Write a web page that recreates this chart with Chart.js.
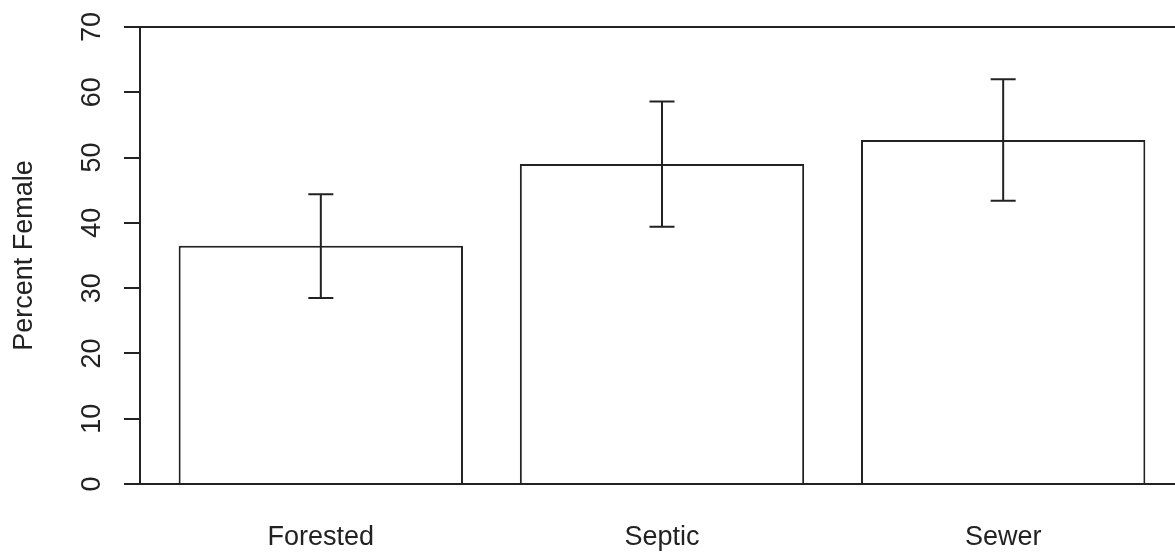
<!DOCTYPE html>
<html>
<head>
<meta charset="utf-8">
<script src="https://cdn.jsdelivr.net/npm/chart.js@4"></script>
<style>
  html, body { margin: 0; padding: 0; background: #fff; overflow: hidden; }
  #wrap { width: 1184px; height: 553px; }
</style>
</head>
<body>
<div id="wrap"><canvas id="chart"></canvas></div>
<script>
/* data */
const categories = ['Forested', 'Septic', 'Sewer'];
const percentFemale = [36.5, 49.0, 52.7];
const errHigh = [44.4, 58.6, 62.0];
const errLow = [28.5, 39.4, 43.4];
const yTickLabels = ['0', '10', '20', '30', '40', '50', '60', '70'];

/* R barplot layout: width 1, space 0.2, 4% axis padding */
const BAR_W = 1, SPACE = 0.2;
const centers = categories.map((_, i) => SPACE + BAR_W / 2 + i * (BAR_W + SPACE));
const span = categories.length * (BAR_W + SPACE);
const X_MIN = SPACE - 0.04 * (span - SPACE);
const X_MAX = span + 0.04 * (span - SPACE);

const INK = '#222';
const FONT = 'Liberation Sans, Arial, sans-serif';

// error bars + rotated y tick labels
const extras = {
  id: 'extras',
  afterDatasetsDraw(chart) {
    const { ctx, scales: { x, y } } = chart;
    ctx.save();
    ctx.strokeStyle = INK;
    ctx.lineWidth = 2;
    centers.forEach((c, i) => {
      const px = x.getPixelForValue(c);
      const top = y.getPixelForValue(errHigh[i]);
      const bot = y.getPixelForValue(errLow[i]);
      ctx.beginPath();
      ctx.moveTo(px, top); ctx.lineTo(px, bot);
      ctx.moveTo(px - 12.5, top); ctx.lineTo(px + 12.5, top);
      ctx.moveTo(px - 12.5, bot); ctx.lineTo(px + 12.5, bot);
      ctx.stroke();
    });
    ctx.restore();
  },
  afterDraw(chart) {
    const { ctx, scales: { y } } = chart;
    ctx.save();
    ctx.fillStyle = INK;
    ctx.font = `27px ${FONT}`;
    ctx.textAlign = 'center';
    ctx.textBaseline = 'alphabetic';
    yTickLabels.forEach(t => {
      const py = y.getPixelForValue(Number(t));
      ctx.save();
      ctx.translate(100, py);
      ctx.rotate(-Math.PI / 2);
      ctx.fillText(t, 0, 0);
      ctx.restore();
    });
    ctx.restore();
  }
};

new Chart(document.getElementById('chart'), {
  type: 'bar',
  data: {
    datasets: [{
      data: centers.map((c, i) => ({ x: c, y: percentFemale[i] })),
      backgroundColor: '#fff',
      borderColor: INK,
      borderWidth: 2,
      borderSkipped: 'start',
      barPercentage: 1,
      categoryPercentage: BAR_W / (BAR_W + SPACE)
    }]
  },
  options: {
    responsive: true,
    maintainAspectRatio: false,
    animation: false,
    layout: { padding: { top: 27, left: 0, right: 0, bottom: 0 } },
    plugins: { legend: { display: false }, tooltip: { enabled: false } },
    scales: {
      x: {
        type: 'linear',
        min: X_MIN,
        max: X_MAX,
        offset: false,
        afterBuildTicks: s => { s.ticks = centers.map(v => ({ value: v })); },
        afterFit: s => { s.height = 69; },
        grid: { display: false },
        border: { display: false },
        ticks: {
          callback: v => categories[centers.findIndex(c => Math.abs(c - v) < 1e-6)],
          color: INK,
          font: { family: FONT, size: 27 },
          padding: 29,
          maxRotation: 0
        }
      },
      y: {
        min: 0,
        max: 70,
        ticks: { stepSize: 10, display: false },
        afterFit: s => { s.width = 140; },
        grid: {
          color: c => (c.tick && (c.tick.value === 0 || c.tick.value === 70)) ? INK : 'rgba(0,0,0,0)',
          tickColor: INK,
          tickLength: 16,
          lineWidth: 2
        },
        border: { display: true, color: INK, width: 2 },
        title: {
          display: true,
          text: 'Percent Female',
          color: INK,
          font: { family: FONT, size: 27 },
          padding: { top: 8 }
        }
      }
    }
  },
  plugins: [extras]
});
</script>
</body>
</html>
